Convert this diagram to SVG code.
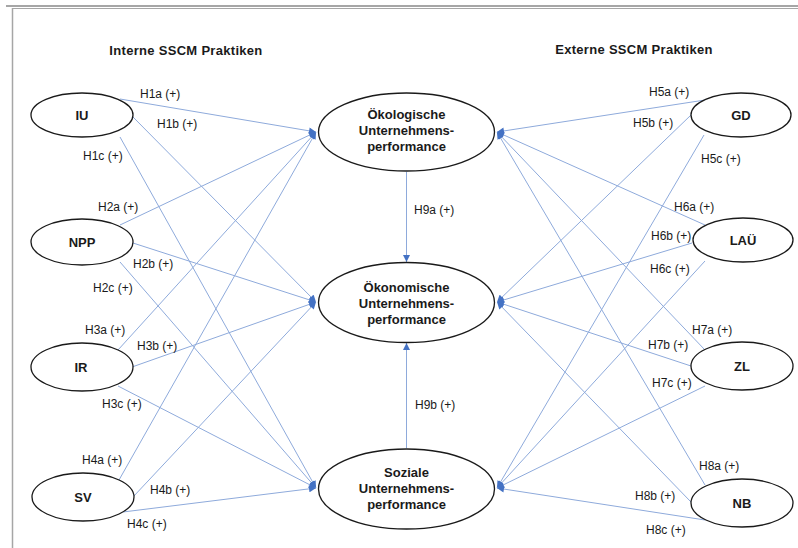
<svg xmlns="http://www.w3.org/2000/svg" width="798" height="548" viewBox="0 0 798 548">
  <style>
    .frame { stroke: #a6a6a6; fill: none; }
    .node { fill: #ffffff; stroke: #1a1a1a; stroke-width: 1.3; }
    .nlabel { font-family: "Liberation Sans", Arial, sans-serif; font-size: 13px; font-weight: bold; fill: #1a1a1a; text-anchor: middle; }
    .title { font-family: "Liberation Sans", Arial, sans-serif; font-size: 13px; font-weight: bold; fill: #1a1a1a; text-anchor: middle; letter-spacing: 0.3px; }
    .edge { stroke: #8eaadb; stroke-width: 1; fill: none; marker-end: url(#arrow); }
    .elabel { font-family: "Liberation Sans", Arial, sans-serif; font-size: 12px; fill: #1a1a1a; }
  </style>
  <defs>
    <marker id="arrow" viewBox="0 0 10 10" refX="10" refY="5" markerWidth="8" markerHeight="7" markerUnits="userSpaceOnUse" orient="auto">
      <path d="M0,0 L10,5 L0,10 Z" fill="#4472c4"/>
    </marker>
  </defs>

  <rect width="798" height="548" fill="#ffffff"/>

  <!-- page frame -->
  <line class="frame" x1="6" y1="6" x2="798" y2="6" stroke-width="2"/>
  <line class="frame" x1="12" y1="8.5" x2="798" y2="8.5" stroke="#d0d0d0" stroke-width="1"/>
  <line class="frame" x1="12.5" y1="8" x2="12.5" y2="548" stroke-width="1.5"/>

  <!-- column headings -->
  <text class="title" x="186" y="55">Interne SSCM Praktiken</text>
  <text class="title" x="634" y="54">Externe SSCM Praktiken</text>

  <!-- connectors -->
  <g id="connectors">
    <!-- IU -->
    <line class="edge" x1="120" y1="99" x2="316" y2="132"/>
    <line class="edge" x1="133" y1="117" x2="316" y2="302"/>
    <line class="edge" x1="120" y1="137" x2="316" y2="488"/>
    <!-- NPP -->
    <line class="edge" x1="120" y1="225" x2="316" y2="132"/>
    <line class="edge" x1="133" y1="243" x2="316" y2="302"/>
    <line class="edge" x1="120" y1="262" x2="316" y2="488"/>
    <!-- IR -->
    <line class="edge" x1="118" y1="350" x2="316" y2="132"/>
    <line class="edge" x1="132" y1="367" x2="316" y2="302"/>
    <line class="edge" x1="118" y1="386" x2="316" y2="488"/>
    <!-- SV -->
    <line class="edge" x1="119" y1="480" x2="316" y2="132"/>
    <line class="edge" x1="133" y1="497" x2="316" y2="302"/>
    <line class="edge" x1="123" y1="512" x2="316" y2="488"/>
    <!-- GD -->
    <line class="edge" x1="705" y1="100" x2="497" y2="132"/>
    <line class="edge" x1="691" y1="115" x2="497" y2="302"/>
    <line class="edge" x1="704" y1="135" x2="497" y2="488"/>
    <!-- LAÜ -->
    <line class="edge" x1="705" y1="225" x2="497" y2="132"/>
    <line class="edge" x1="692" y1="243" x2="497" y2="302"/>
    <line class="edge" x1="705" y1="261" x2="497" y2="488"/>
    <!-- ZL -->
    <line class="edge" x1="705" y1="350" x2="497" y2="132"/>
    <line class="edge" x1="691" y1="366" x2="497" y2="302"/>
    <line class="edge" x1="705" y1="386" x2="497" y2="488"/>
    <!-- NB -->
    <line class="edge" x1="705" y1="485" x2="497" y2="132"/>
    <line class="edge" x1="691" y1="502" x2="497" y2="302"/>
    <line class="edge" x1="705" y1="520" x2="497" y2="488"/>
    <!-- between outcome constructs -->
    <line class="edge" x1="406.5" y1="172" x2="406.5" y2="262"/>
    <line class="edge" x1="406.5" y1="448" x2="406.5" y2="343"/>
  </g>

  <!-- connector labels -->
  <g id="edge-labels">
    <text class="elabel" x="140" y="98">H1a (+)</text>
    <text class="elabel" x="157" y="128">H1b (+)</text>
    <text class="elabel" x="83" y="160">H1c (+)</text>
    <text class="elabel" x="98" y="211">H2a (+)</text>
    <text class="elabel" x="133" y="268">H2b (+)</text>
    <text class="elabel" x="93" y="292">H2c (+)</text>
    <text class="elabel" x="85" y="334">H3a (+)</text>
    <text class="elabel" x="137" y="350">H3b (+)</text>
    <text class="elabel" x="102" y="408">H3c (+)</text>
    <text class="elabel" x="82" y="464">H4a (+)</text>
    <text class="elabel" x="150" y="494">H4b (+)</text>
    <text class="elabel" x="127" y="528">H4c (+)</text>
    <text class="elabel" x="649" y="96">H5a (+)</text>
    <text class="elabel" x="633" y="127">H5b (+)</text>
    <text class="elabel" x="701" y="163">H5c (+)</text>
    <text class="elabel" x="674" y="211">H6a (+)</text>
    <text class="elabel" x="651" y="240">H6b (+)</text>
    <text class="elabel" x="650" y="273">H6c (+)</text>
    <text class="elabel" x="692" y="334">H7a (+)</text>
    <text class="elabel" x="648" y="349">H7b (+)</text>
    <text class="elabel" x="652" y="387">H7c (+)</text>
    <text class="elabel" x="699" y="470">H8a (+)</text>
    <text class="elabel" x="635" y="500">H8b (+)</text>
    <text class="elabel" x="646" y="534">H8c (+)</text>
    <text class="elabel" x="414" y="214">H9a (+)</text>
    <text class="elabel" x="415" y="409">H9b (+)</text>
  </g>

  <!-- internal practices -->
  <g id="node-IU">
    <ellipse class="node" cx="82" cy="115" rx="51" ry="22"/>
    <text class="nlabel" x="82" y="120">IU</text>
  </g>
  <g id="node-NPP">
    <ellipse class="node" cx="82" cy="242" rx="51" ry="23"/>
    <text class="nlabel" x="82" y="247">NPP</text>
  </g>
  <g id="node-IR">
    <ellipse class="node" cx="82" cy="367" rx="51" ry="24"/>
    <text class="nlabel" x="81" y="372">IR</text>
  </g>
  <g id="node-SV">
    <ellipse class="node" cx="83" cy="497" rx="51" ry="24"/>
    <text class="nlabel" x="83" y="502">SV</text>
  </g>

  <!-- outcome constructs -->
  <g id="node-oekologisch">
    <ellipse class="node" cx="406.5" cy="132" rx="88" ry="39"/>
    <text class="nlabel" x="406.5" y="119">Ökologische</text>
    <text class="nlabel" x="406.5" y="135">Unternehmens-</text>
    <text class="nlabel" x="406.5" y="151">performance</text>
  </g>
  <g id="node-oekonomisch">
    <ellipse class="node" cx="406.5" cy="302.5" rx="88" ry="40"/>
    <text class="nlabel" x="406.5" y="292">Ökonomische</text>
    <text class="nlabel" x="406.5" y="308">Unternehmens-</text>
    <text class="nlabel" x="406.5" y="324">performance</text>
  </g>
  <g id="node-sozial">
    <ellipse class="node" cx="406.5" cy="489" rx="88" ry="40"/>
    <text class="nlabel" x="406.5" y="477">Soziale</text>
    <text class="nlabel" x="406.5" y="493">Unternehmens-</text>
    <text class="nlabel" x="406.5" y="509">performance</text>
  </g>

  <!-- external practices -->
  <g id="node-GD">
    <ellipse class="node" cx="741" cy="115" rx="50" ry="22"/>
    <text class="nlabel" x="741" y="120">GD</text>
  </g>
  <g id="node-LAUe">
    <ellipse class="node" cx="743" cy="240" rx="50" ry="22"/>
    <text class="nlabel" x="743" y="245">LAÜ</text>
  </g>
  <g id="node-ZL">
    <ellipse class="node" cx="742" cy="366" rx="51" ry="24"/>
    <text class="nlabel" x="742" y="371">ZL</text>
  </g>
  <g id="node-NB">
    <ellipse class="node" cx="742" cy="503" rx="51" ry="24"/>
    <text class="nlabel" x="742" y="508">NB</text>
  </g>
</svg>
